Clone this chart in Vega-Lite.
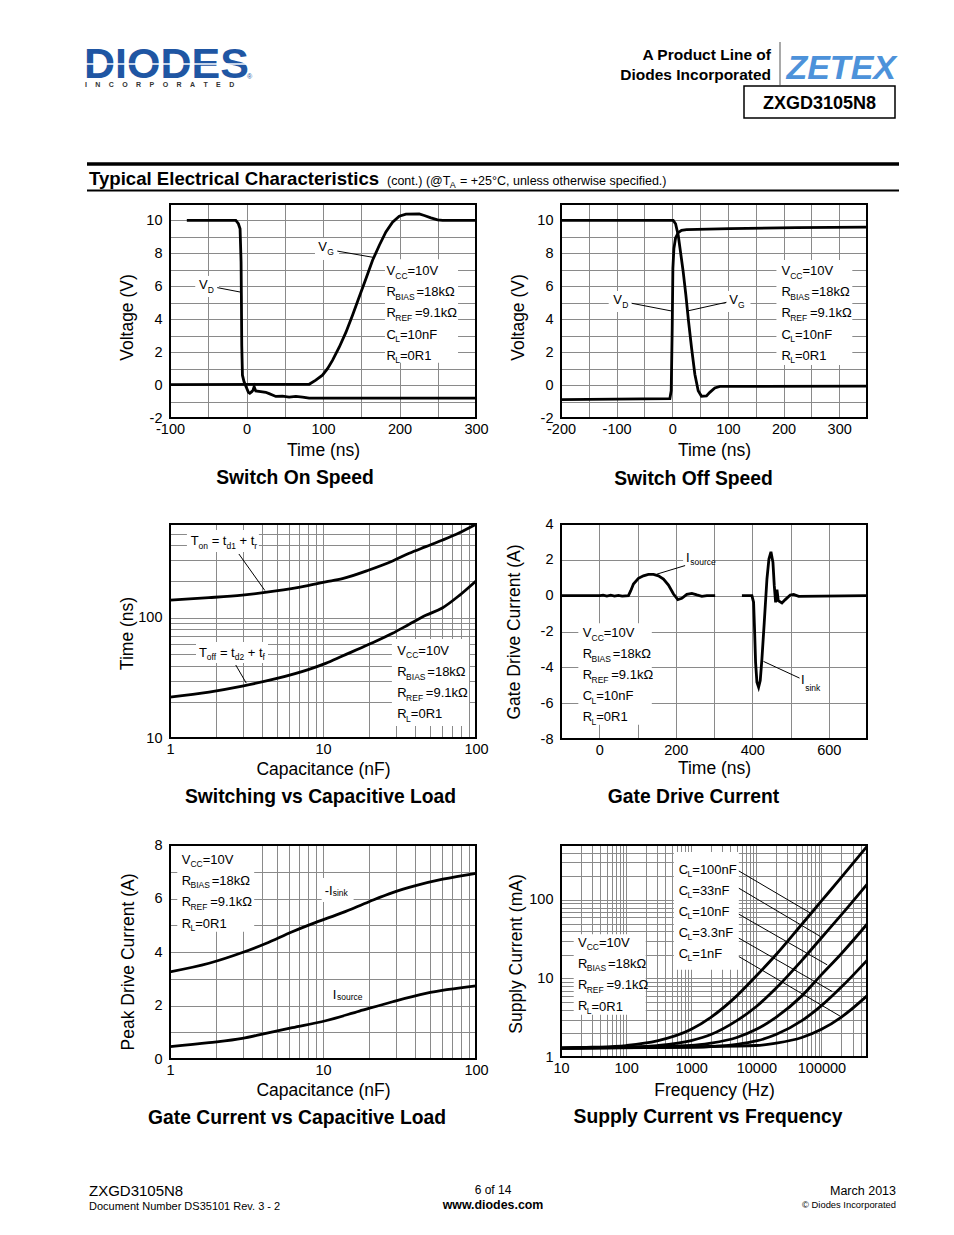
{
"$schema":"https://vega.github.io/schema/vega-lite/v6.json",
"background":"white",
"padding":{"left":84,"top":40,"right":5,"bottom":5},
"columns":2,
"bounds":"flush",
"spacing":{"row":106,"column":85},
"config":{
 "font":"Liberation Sans",
 "view":{"stroke":null},
 "axis":{"grid":true,"gridColor":"#8a8a8a","gridWidth":1,"ticks":false,"domain":false,"labelFontSize":14.5,"labelColor":"black","labelOverlap":false,"labelFlush":false,"titleFontSize":17.5,"titleFontWeight":"normal","titleColor":"black"},
 "axisX":{"labelPadding":4},
 "axisY":{"labelPadding":8},
 "title":{"orient":"bottom","anchor":"middle","frame":"group","baseline":"top","fontSize":19.3,"fontWeight":"bold","color":"black"},
 "text":{"align":"left","baseline":"top","fontSize":13,"lineHeight":21.2,"color":"black"},
 "rule":{"color":"black","strokeWidth":1},
 "line":{"color":"black","strokeWidth":2.8}
},
"concat":[
{"width":306,"height":58,"data":{"values":[{}]},
 "layer":[
  {"mark":{"type":"text","baseline":"alphabetic","fontSize":43,"fontWeight":"bold","color":"#1f56a3"},"encoding":{"x":{"datum":85,"type":"quantitative","scale":{"domain":[171,477],"nice":false,"zero":false},"axis":null},"y":{"datum":78,"type":"quantitative","scale":{"domain":[40,98],"reverse":true,"nice":false,"zero":false},"axis":null},"text":{"value":"DIODES"}}},
  {"mark":{"type":"rule","color":"white","strokeWidth":1.5},"encoding":{"x":{"datum":86,"axis":null},"x2":{"datum":249},"y":{"datum":64,"axis":null}}},
  {"mark":{"type":"text","baseline":"alphabetic","fontSize":7,"fontWeight":"bold","color":"#333333"},"encoding":{"x":{"datum":86,"axis":null},"y":{"datum":87,"axis":null},"text":{"value":"I\u2003\u2009N\u2003\u2009C\u2003\u2009O\u2003\u2009R\u2003\u2009P\u2003\u2009O\u2003\u2009R\u2003\u2009A\u2003\u2009T\u2003\u2009E\u2003\u2009D"}}},
  {"mark":{"type":"text","baseline":"alphabetic","fontSize":7,"color":"#1f56a3"},"encoding":{"x":{"datum":248,"axis":null},"y":{"datum":79,"axis":null},"text":{"value":"®"}}},
  {"mark":{"type":"rule","strokeWidth":3.5},"encoding":{"x":{"datum":88,"axis":null},"x2":{"datum":900},"y":{"datum":164,"axis":null}}},
  {"mark":{"type":"rule","strokeWidth":2},"encoding":{"x":{"datum":88,"axis":null},"x2":{"datum":900},"y":{"datum":190.5,"axis":null}}},
  {"mark":{"type":"text","baseline":"alphabetic","fontSize":18.6,"fontWeight":"bold"},"encoding":{"x":{"datum":90,"axis":null},"y":{"datum":184.5,"axis":null},"text":{"value":"Typical Electrical Characteristics"}}},
  {"mark":{"type":"text","baseline":"alphabetic","fontSize":12.5},"encoding":{"x":{"datum":388,"axis":null},"y":{"datum":184.5,"axis":null},"text":{"value":"(cont.) (@T"}}},
  {"mark":{"type":"text","baseline":"alphabetic","fontSize":9},"encoding":{"x":{"datum":450.8,"axis":null},"y":{"datum":187.5,"axis":null},"text":{"value":"A"}}},
  {"mark":{"type":"text","baseline":"alphabetic","fontSize":12.5},"encoding":{"x":{"datum":461,"axis":null},"y":{"datum":184.5,"axis":null},"text":{"value":"= +25°C, unless otherwise specified.)"}}}
 ]},
{"width":306,"height":58,"data":{"values":[{}]},
 "layer":[
  {"mark":{"type":"text","align":"right","baseline":"alphabetic","fontSize":15.5,"fontWeight":"bold"},"encoding":{"x":{"datum":772,"type":"quantitative","scale":{"domain":[562,868],"nice":false,"zero":false},"axis":null},"y":{"datum":60,"type":"quantitative","scale":{"domain":[40,98],"reverse":true,"nice":false,"zero":false},"axis":null},"text":{"value":"A Product Line of"}}},
  {"mark":{"type":"text","align":"right","baseline":"alphabetic","fontSize":15.5,"fontWeight":"bold"},"encoding":{"x":{"datum":772,"axis":null},"y":{"datum":80,"axis":null},"text":{"value":"Diodes Incorporated"}}},
  {"mark":{"type":"rule","color":"#555555","strokeWidth":1},"encoding":{"x":{"datum":781,"axis":null},"y":{"datum":42,"axis":null},"y2":{"datum":85}}},
  {"mark":{"type":"text","align":"right","baseline":"alphabetic","fontSize":34,"fontWeight":"bold","fontStyle":"italic","color":"#4d92da"},"encoding":{"x":{"datum":897,"axis":null},"y":{"datum":79,"axis":null},"text":{"value":"ZETEX"}}},
  {"mark":{"type":"rect","fill":"white","stroke":"black","strokeWidth":1.5},"encoding":{"x":{"datum":745,"axis":null},"x2":{"datum":896},"y":{"datum":86,"axis":null},"y2":{"datum":118}}},
  {"mark":{"type":"text","align":"center","baseline":"alphabetic","fontSize":18,"fontWeight":"bold"},"encoding":{"x":{"datum":820.5,"axis":null},"y":{"datum":108.5,"axis":null},"text":{"value":"ZXGD3105N8"}}}
 ]},
{"width":306,"height":214,"data":{"values":[{}]},
 "title":{"text":"Switch On Speed","offset":10,"dx":-28},
 "layer":[
  {"mark":{"type":"rect","fill":"white"},"encoding":{"x":{"datum":181},"x2":{"datum":276.5},"y":{"datum":7.65},"y2":{"datum":1.35}}},
  {"mark":{"type":"rect","fill":"white"},"encoding":{"x":{"datum":-67},"x2":{"datum":-36},"y":{"datum":6.63},"y2":{"datum":5.35}}},
  {"mark":{"type":"rect","fill":"white"},"encoding":{"x":{"datum":89.5},"x2":{"datum":121},"y":{"datum":8.93},"y2":{"datum":7.6}}},
  {"data":{"values":[
   {"s":"d","t":-78,"v":10},{"s":"d","t":-14,"v":10},{"s":"d","t":-10.6,"v":9.8},{"s":"d","t":-8.4,"v":9.5},{"s":"d","t":-7.1,"v":7.5},{"s":"d","t":-6.7,"v":5.45},{"s":"d","t":-6.2,"v":2.4},{"s":"d","t":-5.3,"v":0.6},{"s":"d","t":-3.2,"v":0.2},{"s":"d","t":0,"v":-0.16},{"s":"d","t":2.5,"v":-0.44},{"s":"d","t":4.3,"v":-0.5},{"s":"d","t":6.9,"v":-0.4},{"s":"d","t":8.6,"v":-0.3},{"s":"d","t":10,"v":-0.1},{"s":"d","t":12.1,"v":-0.36},{"s":"d","t":18.6,"v":-0.4},{"s":"d","t":25.2,"v":-0.44},{"s":"d","t":29.6,"v":-0.52},{"s":"d","t":33.9,"v":-0.6},{"s":"d","t":38.3,"v":-0.69},{"s":"d","t":47,"v":-0.67},{"s":"d","t":55.7,"v":-0.73},{"s":"d","t":64.5,"v":-0.69},{"s":"d","t":73.2,"v":-0.73},{"s":"d","t":81.9,"v":-0.79},{"s":"d","t":300,"v":-0.79},
   {"s":"g","t":-100,"v":0.03},{"s":"g","t":81.9,"v":0.05},{"s":"g","t":90.6,"v":0.3},{"s":"g","t":99.3,"v":0.6},{"s":"g","t":105.9,"v":1.0},{"s":"g","t":112.4,"v":1.5},{"s":"g","t":121.2,"v":2.3},{"s":"g","t":129.9,"v":3.2},{"s":"g","t":138.6,"v":4.24},{"s":"g","t":147.3,"v":5.35},{"s":"g","t":156.1,"v":6.46},{"s":"g","t":164.8,"v":7.58},{"s":"g","t":173.5,"v":8.48},{"s":"g","t":182.2,"v":9.3},{"s":"g","t":190.9,"v":9.9},{"s":"g","t":199.7,"v":10.26},{"s":"g","t":208.4,"v":10.38},{"s":"g","t":225.8,"v":10.4},{"s":"g","t":232.4,"v":10.3},{"s":"g","t":241.1,"v":10.16},{"s":"g","t":249.8,"v":10.04},{"s":"g","t":256.4,"v":10.0},{"s":"g","t":300,"v":10.0}
  ]},
   "mark":{"type":"line"},
   "encoding":{
    "x":{"field":"t","type":"quantitative","scale":{"domain":[-100,300],"nice":false,"zero":false},"axis":{"title":"Time (ns)","values":[-100,-50,0,50,100,150,200,250,300],"tickCount":100,"labelOverlap":false,"labelExpr":"datum.value % 100 === 0 ? '' + datum.value : ''","titleY":37.3,"titleBaseline":"alphabetic"}},
    "y":{"field":"v","type":"quantitative","scale":{"domain":[-2,11],"nice":false,"zero":false},"axis":{"title":"Voltage (V)","values":[-2,-1,0,1,2,3,4,5,6,7,8,9,10,11],"tickCount":100,"labelOverlap":false,"labelExpr":"datum.value % 2 === 0 && datum.value <= 10 ? '' + datum.value : ''","titleX":-43,"titleY":113,"titleBaseline":"middle"}},
    "detail":{"field":"s"}}},
  {"mark":"rule","encoding":{"x":{"datum":-38.2},"x2":{"datum":-7},"y":{"datum":5.92},"y2":{"datum":5.64}}},
  {"mark":"rule","encoding":{"x":{"datum":118.7},"x2":{"datum":166.7},"y":{"datum":8.14},"y2":{"datum":7.75}}},
  {"mark":"text","encoding":{"x":{"datum":-62.1},"y":{"datum":6.44},"text":{"value":"V"}}},
  {"mark":{"type":"text","fontSize":8.5,"dx":8.8,"dy":6.5},"encoding":{"x":{"datum":-62.1},"y":{"datum":6.44},"text":{"value":"D"}}},
  {"mark":"text","encoding":{"x":{"datum":93.9},"y":{"datum":8.75},"text":{"value":"V"}}},
  {"mark":{"type":"text","fontSize":8.5,"dx":8.8,"dy":6.5},"encoding":{"x":{"datum":93.9},"y":{"datum":8.75},"text":{"value":"G"}}},
  {"mark":"text","encoding":{"x":{"datum":183},"y":{"datum":7.29},"text":{"value":["V","R","R","C","R"]}}},
  {"mark":{"type":"text","fontSize":8.5,"dx":8.8,"dy":6.5},"encoding":{"x":{"datum":183},"y":{"datum":7.29},"text":{"value":["CC","BIAS","REF","L","L"]}}},
  {"mark":{"type":"text","dx":21},"encoding":{"x":{"datum":183},"y":{"datum":7.29},"text":{"value":"=10V"}}},
  {"mark":{"type":"text","dx":30,"dy":21.2},"encoding":{"x":{"datum":183},"y":{"datum":7.29},"text":{"value":"=18kΩ"}}},
  {"mark":{"type":"text","dx":28.5,"dy":42.4},"encoding":{"x":{"datum":183},"y":{"datum":7.29},"text":{"value":"=9.1kΩ"}}},
  {"mark":{"type":"text","dx":13.5,"dy":63.6},"encoding":{"x":{"datum":183},"y":{"datum":7.29},"text":{"value":["=10nF","=0R1"]}}},
  {"mark":{"type":"rect","filled":false,"stroke":"black","strokeWidth":2},"encoding":{"x":{"datum":-100},"x2":{"datum":300},"y":{"datum":-2},"y2":{"datum":11}}}
 ]},
{"width":306,"height":214,"data":{"values":[{}]},
 "title":{"text":"Switch Off Speed","offset":11,"dx":-20.5},
 "layer":[
  {"mark":{"type":"rect","fill":"white"},"encoding":{"x":{"datum":187.2},"x2":{"datum":323.6},"y":{"datum":7.6},"y2":{"datum":1.22}}},
  {"mark":{"type":"rect","fill":"white"},"encoding":{"x":{"datum":-114.3},"x2":{"datum":-71.2},"y":{"datum":5.72},"y2":{"datum":4.44}}},
  {"mark":{"type":"rect","fill":"white"},"encoding":{"x":{"datum":95.7},"x2":{"datum":140.6},"y":{"datum":5.72},"y2":{"datum":4.44}}},
  {"data":{"values":[
   {"s":"d","t":-200,"v":-0.88},{"s":"d","t":-4.3,"v":-0.82},{"s":"d","t":-1.9,"v":-0.34},{"s":"d","t":-0.1,"v":3.47},{"s":"d","t":1.1,"v":7.09},{"s":"d","t":2.9,"v":8.29},{"s":"d","t":5.9,"v":8.94},{"s":"d","t":10.7,"v":9.26},{"s":"d","t":16.6,"v":9.4},{"s":"d","t":25.6,"v":9.44},{"s":"d","t":103.4,"v":9.5},{"s":"d","t":223,"v":9.56},{"s":"d","t":350,"v":9.6},
   {"s":"g","t":-200,"v":10},{"s":"g","t":1.7,"v":10},{"s":"g","t":5.9,"v":9.8},{"s":"g","t":10.7,"v":9.1},{"s":"g","t":14.8,"v":8.09},{"s":"g","t":19.6,"v":6.89},{"s":"g","t":24.4,"v":5.48},{"s":"g","t":29.2,"v":3.88},{"s":"g","t":34.6,"v":2.27},{"s":"g","t":40.6,"v":0.66},{"s":"g","t":46.6,"v":-0.34},{"s":"g","t":52.5,"v":-0.68},{"s":"g","t":61.5,"v":-0.66},{"s":"g","t":67.5,"v":-0.44},{"s":"g","t":76.5,"v":-0.18},{"s":"g","t":85.5,"v":-0.08},{"s":"g","t":350,"v":-0.06}
  ]},
   "mark":{"type":"line"},
   "encoding":{
    "x":{"field":"t","type":"quantitative","scale":{"domain":[-200,350],"nice":false,"zero":false},"axis":{"title":"Time (ns)","values":[-200,-150,-100,-50,0,50,100,150,200,250,300,350],"tickCount":100,"labelOverlap":false,"labelExpr":"datum.value % 100 === 0 ? '' + datum.value : ''","titleY":37.3,"titleBaseline":"alphabetic"}},
    "y":{"field":"v","type":"quantitative","scale":{"domain":[-2,11],"nice":false,"zero":false},"axis":{"title":"Voltage (V)","values":[-2,-1,0,1,2,3,4,5,6,7,8,9,10,11],"tickCount":100,"labelOverlap":false,"labelExpr":"datum.value % 2 === 0 && datum.value <= 10 ? '' + datum.value : ''","titleX":-42.6,"titleY":113,"titleBaseline":"middle"}},
    "detail":{"field":"s"}}},
  {"mark":"rule","encoding":{"x":{"datum":-73.1},"x2":{"datum":-1.3},"y":{"datum":4.97},"y2":{"datum":4.5}}},
  {"mark":"rule","encoding":{"x":{"datum":27},"x2":{"datum":97.4},"y":{"datum":4.5},"y2":{"datum":5.03}}},
  {"mark":"text","encoding":{"x":{"datum":-105.9},"y":{"datum":5.51},"text":{"value":"V"}}},
  {"mark":{"type":"text","fontSize":8.5,"dx":8.8,"dy":6.5},"encoding":{"x":{"datum":-105.9},"y":{"datum":5.51},"text":{"value":"D"}}},
  {"mark":"text","encoding":{"x":{"datum":102.3},"y":{"datum":5.51},"text":{"value":"V"}}},
  {"mark":{"type":"text","fontSize":8.5,"dx":8.8,"dy":6.5},"encoding":{"x":{"datum":102.3},"y":{"datum":5.51},"text":{"value":"G"}}},
  {"mark":"text","encoding":{"x":{"datum":196.2},"y":{"datum":7.29},"text":{"value":["V","R","R","C","R"]}}},
  {"mark":{"type":"text","fontSize":8.5,"dx":8.8,"dy":6.5},"encoding":{"x":{"datum":196.2},"y":{"datum":7.29},"text":{"value":["CC","BIAS","REF","L","L"]}}},
  {"mark":{"type":"text","dx":21},"encoding":{"x":{"datum":196.2},"y":{"datum":7.29},"text":{"value":"=10V"}}},
  {"mark":{"type":"text","dx":30,"dy":21.2},"encoding":{"x":{"datum":196.2},"y":{"datum":7.29},"text":{"value":"=18kΩ"}}},
  {"mark":{"type":"text","dx":28.5,"dy":42.4},"encoding":{"x":{"datum":196.2},"y":{"datum":7.29},"text":{"value":"=9.1kΩ"}}},
  {"mark":{"type":"text","dx":13.5,"dy":63.6},"encoding":{"x":{"datum":196.2},"y":{"datum":7.29},"text":{"value":["=10nF","=0R1"]}}},
  {"mark":{"type":"rect","filled":false,"stroke":"black","strokeWidth":2},"encoding":{"x":{"datum":-200},"x2":{"datum":350},"y":{"datum":-2},"y2":{"datum":11}}}
 ]},
{"width":306,"height":214,"data":{"values":[{}]},
 "title":{"text":"Switching vs Capacitive Load","offset":10,"dx":-2.5},
 "layer":[
  {"mark":{"type":"rect","fill":"white"},"encoding":{"x":{"datum":28.2},"x2":{"datum":90},"y":{"datum":66.5},"y2":{"datum":12.58}}},
  {"mark":{"type":"rect","fill":"white"},"encoding":{"x":{"datum":1.29},"x2":{"datum":3.81},"y":{"datum":535},"y2":{"datum":351}}},
  {"mark":{"type":"rect","fill":"white"},"encoding":{"x":{"datum":1.479},"x2":{"datum":4.37},"y":{"datum":62.8},"y2":{"datum":42}}},
  {"data":{"values":[
   {"s":"on","c":1,"t":140},{"s":"on","c":1.8,"t":146.6},{"s":"on","c":2.97,"t":154},{"s":"on","c":4.92,"t":166.6},{"s":"on","c":8.1,"t":185.7},{"s":"on","c":10.4,"t":197.9},{"s":"on","c":13.4,"t":210.9},{"s":"on","c":20,"t":248.9},{"s":"on","c":28.5,"t":295.8},{"s":"on","c":36.6,"t":342.7},{"s":"on","c":47,"t":389},{"s":"on","c":60.6,"t":442},{"s":"on","c":78,"t":508},{"s":"on","c":100,"t":597},
   {"s":"off","c":1,"t":21.9},{"s":"off","c":1.8,"t":24.1},{"s":"off","c":2.97,"t":27},{"s":"off","c":4.92,"t":31.1},{"s":"off","c":8.1,"t":37.2},{"s":"off","c":10.4,"t":41.7},{"s":"off","c":13.4,"t":48},{"s":"off","c":20,"t":60},{"s":"off","c":28.5,"t":74.1},{"s":"off","c":36.6,"t":88.1},{"s":"off","c":47,"t":104.5},{"s":"off","c":60.6,"t":121},{"s":"off","c":78,"t":153.4},{"s":"off","c":100,"t":201.8}
  ]},
   "mark":{"type":"line","interpolate":"monotone"},
   "encoding":{
    "x":{"field":"c","type":"quantitative","scale":{"type":"log","domain":[1,100],"nice":false},"axis":{"title":"Capacitance (nF)","values":[1,2,3,4,5,6,7,8,9,10,20,30,40,50,60,70,80,90,100],"tickCount":100,"labelOverlap":false,"labelExpr":"indexof([1,10,100], datum.value) >= 0 ? '' + datum.value : ''","titleY":36.3,"titleBaseline":"alphabetic"}},
    "y":{"field":"t","type":"quantitative","scale":{"type":"log","domain":[10,600],"nice":false},"axis":{"title":"Time (ns)","values":[10,20,30,40,50,60,70,80,90,100,200,300,400,500,600],"tickCount":100,"labelOverlap":false,"labelExpr":"indexof([10,100], datum.value) >= 0 ? '' + datum.value : ''","titleX":-43,"titleY":109,"titleBaseline":"middle"}},
    "detail":{"field":"s"}}},
  {"mark":"rule","encoding":{"x":{"datum":2.82},"x2":{"datum":4.17},"y":{"datum":338},"y2":{"datum":168}}},
  {"mark":"rule","encoding":{"x":{"datum":2.69},"x2":{"datum":3.15},"y":{"datum":40.4},"y2":{"datum":28.6}}},
  {"mark":"text","encoding":{"x":{"datum":1.365},"y":{"datum":485.6},"text":{"value":"T"}}},
  {"mark":{"type":"text","fontSize":8.5,"dx":7.9,"dy":6.5},"encoding":{"x":{"datum":1.365},"y":{"datum":485.6},"text":{"value":"on"}}},
  {"mark":{"type":"text","dx":20.95},"encoding":{"x":{"datum":1.365},"y":{"datum":485.6},"text":{"value":"= t"}}},
  {"mark":{"type":"text","fontSize":8.5,"dx":35.75,"dy":6.5},"encoding":{"x":{"datum":1.365},"y":{"datum":485.6},"text":{"value":"d1"}}},
  {"mark":{"type":"text","dx":48.8},"encoding":{"x":{"datum":1.365},"y":{"datum":485.6},"text":{"value":"+ t"}}},
  {"mark":{"type":"text","fontSize":8.5,"dx":63.6,"dy":6.5},"encoding":{"x":{"datum":1.365},"y":{"datum":485.6},"text":{"value":"r"}}},
  {"mark":"text","encoding":{"x":{"datum":1.546},"y":{"datum":57.4},"text":{"value":"T"}}},
  {"mark":{"type":"text","fontSize":8.5,"dx":7.9,"dy":6.5},"encoding":{"x":{"datum":1.546},"y":{"datum":57.4},"text":{"value":"off"}}},
  {"mark":{"type":"text","dx":20.95},"encoding":{"x":{"datum":1.546},"y":{"datum":57.4},"text":{"value":"= t"}}},
  {"mark":{"type":"text","fontSize":8.5,"dx":35.75,"dy":6.5},"encoding":{"x":{"datum":1.546},"y":{"datum":57.4},"text":{"value":"d2"}}},
  {"mark":{"type":"text","dx":48.8},"encoding":{"x":{"datum":1.546},"y":{"datum":57.4},"text":{"value":"+ t"}}},
  {"mark":{"type":"text","fontSize":8.5,"dx":63.6,"dy":6.5},"encoding":{"x":{"datum":1.546},"y":{"datum":57.4},"text":{"value":"f"}}},
  {"mark":"text","encoding":{"x":{"datum":30.6},"y":{"datum":59.4},"text":{"value":["V","R","R","R"]}}},
  {"mark":{"type":"text","fontSize":8.5,"dx":8.8,"dy":6.5},"encoding":{"x":{"datum":30.6},"y":{"datum":59.4},"text":{"value":["CC","BIAS","REF","L"]}}},
  {"mark":{"type":"text","dx":21},"encoding":{"x":{"datum":30.6},"y":{"datum":59.4},"text":{"value":"=10V"}}},
  {"mark":{"type":"text","dx":30,"dy":21.2},"encoding":{"x":{"datum":30.6},"y":{"datum":59.4},"text":{"value":"=18kΩ"}}},
  {"mark":{"type":"text","dx":28.5,"dy":42.4},"encoding":{"x":{"datum":30.6},"y":{"datum":59.4},"text":{"value":"=9.1kΩ"}}},
  {"mark":{"type":"text","dx":13.5,"dy":63.6},"encoding":{"x":{"datum":30.6},"y":{"datum":59.4},"text":{"value":"=0R1"}}},
  {"mark":{"type":"rect","filled":false,"stroke":"black","strokeWidth":2},"encoding":{"x":{"datum":1},"x2":{"datum":100},"y":{"datum":10},"y2":{"datum":600}}}
 ]},
{"width":306,"height":215,"data":{"values":[{}]},
 "title":{"text":"Gate Drive Current","offset":10.9,"dx":-20.5},
 "layer":[
  {"mark":{"type":"rect","fill":"white"},"encoding":{"x":{"datum":-54.7},"x2":{"datum":137.4},"y":{"datum":-1.54},"y2":{"datum":-7.2}}},
  {"mark":{"type":"rect","fill":"white"},"encoding":{"x":{"datum":219.3},"x2":{"datum":297.8},"y":{"datum":2.57},"y2":{"datum":1.51}}},
  {"mark":{"type":"rect","fill":"white"},"encoding":{"x":{"datum":520.3},"x2":{"datum":580.5},"y":{"datum":-4.12},"y2":{"datum":-5.61}}},
  {"data":{"values":[
   {"s":"a","t":-100,"i":0},{"s":"a","t":2,"i":0},{"s":"a","t":10,"i":0.03},{"s":"a","t":20,"i":-0.02},{"s":"a","t":30,"i":0.03},{"s":"a","t":40,"i":-0.02},{"s":"a","t":50,"i":0.02},{"s":"a","t":60,"i":-0.02},{"s":"a","t":76.3,"i":0},{"s":"a","t":82.4,"i":0.28},{"s":"a","t":89.4,"i":0.65},{"s":"a","t":102.4,"i":0.97},{"s":"a","t":115.5,"i":1.11},{"s":"a","t":128.6,"i":1.19},{"s":"a","t":141.7,"i":1.19},{"s":"a","t":154.8,"i":1.11},{"s":"a","t":167.9,"i":0.93},{"s":"a","t":181,"i":0.59},{"s":"a","t":194.1,"i":0.09},{"s":"a","t":205.4,"i":-0.22},{"s":"a","t":215.9,"i":-0.15},{"s":"a","t":229,"i":0.07},{"s":"a","t":242.1,"i":0.13},{"s":"a","t":255.2,"i":0.04},{"s":"a","t":268.2,"i":-0.04},{"s":"a","t":281.3,"i":0},{"s":"a","t":303,"i":0},
   {"s":"b","t":373,"i":0},{"s":"b","t":399.1,"i":0},{"s":"b","t":403.5,"i":-0.37},{"s":"b","t":406,"i":-1.86},{"s":"b","t":408.7,"i":-3.72},{"s":"b","t":412.2,"i":-4.83},{"s":"b","t":416.6,"i":-5.11},{"s":"b","t":420.9,"i":-4.74},{"s":"b","t":425.3,"i":-3.53},{"s":"b","t":431.4,"i":-1.49},{"s":"b","t":438.4,"i":0.93},{"s":"b","t":443.6,"i":2.04},{"s":"b","t":448.9,"i":2.45},{"s":"b","t":454.1,"i":1.86},{"s":"b","t":457.6,"i":0.56},{"s":"b","t":461.1,"i":-0.37},{"s":"b","t":464.6,"i":0.33},{"s":"b","t":468.1,"i":-0.28},{"s":"b","t":477.7,"i":-0.41},{"s":"b","t":486.4,"i":-0.22},{"s":"b","t":499.5,"i":0.04},{"s":"b","t":508.2,"i":0.07},{"s":"b","t":521.3,"i":-0.04},{"s":"b","t":700,"i":0}
  ]},
   "mark":{"type":"line"},
   "encoding":{
    "x":{"field":"t","type":"quantitative","scale":{"domain":[-100,700],"nice":false,"zero":false},"axis":{"title":"Time (ns)","values":[-100,0,100,200,300,400,500,600,700],"tickCount":100,"labelOverlap":false,"labelExpr":"datum.value % 200 === 0 ? '' + datum.value : ''","titleY":34.6,"titleBaseline":"alphabetic"}},
    "y":{"field":"i","type":"quantitative","scale":{"domain":[-8,4],"nice":false,"zero":false},"axis":{"title":"Gate Drive Current (A)","values":[-8,-6,-4,-2,0,2,4],"tickCount":100,"labelOverlap":false,"labelExpr":"'' + datum.value","titleX":-47,"titleY":107.5,"titleBaseline":"middle"}},
    "detail":{"field":"s"}}},
  {"mark":"rule","encoding":{"x":{"datum":224.5},"x2":{"datum":150.5},"y":{"datum":1.68},"y2":{"datum":1.2}}},
  {"mark":"rule","encoding":{"x":{"datum":429.4},"x2":{"datum":523.6},"y":{"datum":-3.67},"y2":{"datum":-4.6}}},
  {"mark":"text","encoding":{"x":{"datum":227.1},"y":{"datum":2.43},"text":{"value":"I"}}},
  {"mark":{"type":"text","fontSize":8.5,"dx":4.2,"dy":6},"encoding":{"x":{"datum":227.1},"y":{"datum":2.43},"text":{"value":"source"}}},
  {"mark":"text","encoding":{"x":{"datum":527.3},"y":{"datum":-4.38},"text":{"value":"I"}}},
  {"mark":{"type":"text","fontSize":8.5,"dx":4.2,"dy":10},"encoding":{"x":{"datum":527.3},"y":{"datum":-4.38},"text":{"value":"sink"}}},
  {"mark":{"type":"text","lineHeight":21},"encoding":{"x":{"datum":-43.2},"y":{"datum":-1.76},"text":{"value":["V","R","R","C","R"]}}},
  {"mark":{"type":"text","fontSize":8.5,"lineHeight":21,"dx":8.8,"dy":6.5},"encoding":{"x":{"datum":-43.2},"y":{"datum":-1.76},"text":{"value":["CC","BIAS","REF","L","L"]}}},
  {"mark":{"type":"text","dx":21},"encoding":{"x":{"datum":-43.2},"y":{"datum":-1.76},"text":{"value":"=10V"}}},
  {"mark":{"type":"text","dx":30,"dy":21},"encoding":{"x":{"datum":-43.2},"y":{"datum":-1.76},"text":{"value":"=18kΩ"}}},
  {"mark":{"type":"text","dx":28.5,"dy":42},"encoding":{"x":{"datum":-43.2},"y":{"datum":-1.76},"text":{"value":"=9.1kΩ"}}},
  {"mark":{"type":"text","lineHeight":21,"dx":13.5,"dy":63},"encoding":{"x":{"datum":-43.2},"y":{"datum":-1.76},"text":{"value":["=10nF","=0R1"]}}},
  {"mark":{"type":"rect","filled":false,"stroke":"black","strokeWidth":2},"encoding":{"x":{"datum":-100},"x2":{"datum":700},"y":{"datum":-8},"y2":{"datum":4}}}
 ]},
{"width":306,"height":214,"data":{"values":[{}]},
 "title":{"text":"Gate Current vs Capacitive Load","offset":9.9,"dx":-26},
 "layer":[
  {"mark":{"type":"rect","fill":"white"},"encoding":{"x":{"datum":1.116},"x2":{"datum":3.55},"y":{"datum":8},"y2":{"datum":4.76}}},
  {"mark":{"type":"rect","fill":"white"},"encoding":{"x":{"datum":9.8},"x2":{"datum":15.85},"y":{"datum":6.77},"y2":{"datum":5.87}}},
  {"mark":{"type":"rect","fill":"white"},"encoding":{"x":{"datum":11.1},"x2":{"datum":17.6},"y":{"datum":2.88},"y2":{"datum":1.98}}},
  {"data":{"values":[
   {"s":"k","c":1,"i":3.26},{"s":"k","c":1.8,"i":3.58},{"s":"k","c":2.97,"i":3.98},{"s":"k","c":4.23,"i":4.32},{"s":"k","c":6.3,"i":4.76},{"s":"k","c":8.9,"i":5.1},{"s":"k","c":13.4,"i":5.47},{"s":"k","c":20,"i":5.88},{"s":"k","c":28.5,"i":6.22},{"s":"k","c":40.3,"i":6.48},{"s":"k","c":60.6,"i":6.72},{"s":"k","c":100,"i":6.94},
   {"s":"s","c":1,"i":0.46},{"s":"s","c":1.8,"i":0.61},{"s":"s","c":2.97,"i":0.77},{"s":"s","c":4.23,"i":0.96},{"s":"s","c":6.3,"i":1.17},{"s":"s","c":10.4,"i":1.43},{"s":"s","c":17.3,"i":1.79},{"s":"s","c":28.5,"i":2.14},{"s":"s","c":47,"i":2.45},{"s":"s","c":100,"i":2.73}
  ]},
   "mark":{"type":"line","interpolate":"monotone"},
   "encoding":{
    "x":{"field":"c","type":"quantitative","scale":{"type":"log","domain":[1,100],"nice":false},"axis":{"title":"Capacitance (nF)","values":[1,2,3,4,5,6,7,8,9,10,20,30,40,50,60,70,80,90,100],"tickCount":100,"labelOverlap":false,"labelExpr":"indexof([1,10,100], datum.value) >= 0 ? '' + datum.value : ''","titleY":36.3,"titleBaseline":"alphabetic"}},
    "y":{"field":"i","type":"quantitative","scale":{"domain":[0,8],"nice":false,"zero":false},"axis":{"title":"Peak Drive Current (A)","values":[0,1,2,3,4,5,6,7,8],"tickCount":100,"labelOverlap":false,"labelExpr":"datum.value % 2 === 0 ? '' + datum.value : ''","titleX":-42,"titleY":116.5,"titleBaseline":"middle"}},
    "detail":{"field":"s"}}},
  {"mark":"text","encoding":{"x":{"datum":10.26},"y":{"datum":6.51},"text":{"value":"-I"}}},
  {"mark":{"type":"text","fontSize":8.5,"dx":8,"dy":4.5},"encoding":{"x":{"datum":10.26},"y":{"datum":6.51},"text":{"value":"sink"}}},
  {"mark":"text","encoding":{"x":{"datum":11.6},"y":{"datum":2.63},"text":{"value":"I"}}},
  {"mark":{"type":"text","fontSize":8.5,"dx":4.2,"dy":4.5},"encoding":{"x":{"datum":11.6},"y":{"datum":2.63},"text":{"value":"source"}}},
  {"mark":{"type":"text","lineHeight":21.3},"encoding":{"x":{"datum":1.192},"y":{"datum":7.675},"text":{"value":["V","R","R","R"]}}},
  {"mark":{"type":"text","fontSize":8.5,"lineHeight":21.3,"dx":8.8,"dy":6.5},"encoding":{"x":{"datum":1.192},"y":{"datum":7.675},"text":{"value":["CC","BIAS","REF","L"]}}},
  {"mark":{"type":"text","dx":21},"encoding":{"x":{"datum":1.192},"y":{"datum":7.675},"text":{"value":"=10V"}}},
  {"mark":{"type":"text","dx":30,"dy":21.3},"encoding":{"x":{"datum":1.192},"y":{"datum":7.675},"text":{"value":"=18kΩ"}}},
  {"mark":{"type":"text","dx":28.5,"dy":42.6},"encoding":{"x":{"datum":1.192},"y":{"datum":7.675},"text":{"value":"=9.1kΩ"}}},
  {"mark":{"type":"text","dx":13.5,"dy":63.9},"encoding":{"x":{"datum":1.192},"y":{"datum":7.675},"text":{"value":"=0R1"}}},
  {"mark":{"type":"rect","filled":false,"stroke":"black","strokeWidth":2},"encoding":{"x":{"datum":1},"x2":{"datum":100},"y":{"datum":0},"y2":{"datum":8}}}
 ]},
{"width":306,"height":212,"data":{"values":[{}]},
 "title":{"text":"Supply Current vs Frequency","offset":9.9,"dx":-6},
 "layer":[
  {"mark":{"type":"rect","fill":"white"},"encoding":{"x":{"datum":15.67},"x2":{"datum":200},"y":{"datum":36.6},"y2":{"datum":3.45}}},
  {"mark":{"type":"rect","fill":"white"},"encoding":{"x":{"datum":540},"x2":{"datum":5383},"y":{"datum":407},"y2":{"datum":12.9}}},
  {"data":{"values":[
   {"s":"100","f":10,"i":1.3},{"s":"100","f":30,"i":1.33},{"s":"100","f":100,"i":1.4},{"s":"100","f":300,"i":1.6},{"s":"100","f":1000,"i":2.25},{"s":"100","f":2000,"i":3.2},{"s":"100","f":5000,"i":6.0},{"s":"100","f":10000,"i":10.8},{"s":"100","f":20000,"i":20},{"s":"100","f":50000,"i":49},{"s":"100","f":100000,"i":97},{"s":"100","f":200000,"i":192},{"s":"100","f":500000,"i":480},
   {"s":"33","f":10,"i":1.3},{"s":"33","f":100,"i":1.33},{"s":"33","f":300,"i":1.4},{"s":"33","f":1000,"i":1.62},{"s":"33","f":2000,"i":1.93},{"s":"33","f":5000,"i":2.9},{"s":"33","f":10000,"i":4.4},{"s":"33","f":20000,"i":7.5},{"s":"33","f":50000,"i":17},{"s":"33","f":100000,"i":33},{"s":"33","f":200000,"i":64},{"s":"33","f":500000,"i":158},
   {"s":"10","f":10,"i":1.3},{"s":"10","f":1000,"i":1.4},{"s":"10","f":2000,"i":1.5},{"s":"10","f":5000,"i":1.77},{"s":"10","f":10000,"i":2.25},{"s":"10","f":20000,"i":3.2},{"s":"10","f":50000,"i":6.0},{"s":"10","f":100000,"i":11.2},{"s":"10","f":200000,"i":20.5},{"s":"10","f":500000,"i":49},
   {"s":"3.3","f":10,"i":1.3},{"s":"3.3","f":1000,"i":1.33},{"s":"3.3","f":5000,"i":1.45},{"s":"3.3","f":10000,"i":1.6},{"s":"3.3","f":20000,"i":1.93},{"s":"3.3","f":50000,"i":2.9},{"s":"3.3","f":100000,"i":4.5},{"s":"3.3","f":200000,"i":7.7},{"s":"3.3","f":500000,"i":17},
   {"s":"1","f":10,"i":1.3},{"s":"1","f":10000,"i":1.4},{"s":"1","f":20000,"i":1.5},{"s":"1","f":50000,"i":1.77},{"s":"1","f":100000,"i":2.25},{"s":"1","f":200000,"i":3.2},{"s":"1","f":500000,"i":6.0}
  ]},
   "mark":{"type":"line","interpolate":"monotone"},
   "encoding":{
    "x":{"field":"f","type":"quantitative","scale":{"type":"log","domain":[10,500000],"nice":false},"axis":{"title":"Frequency (Hz)","values":[10,20,30,40,50,60,70,80,90,100,200,300,400,500,600,700,800,900,1000,2000,3000,4000,5000,6000,7000,8000,9000,10000,20000,30000,40000,50000,60000,70000,80000,90000,100000,200000,300000,400000,500000],"tickCount":100,"labelOverlap":false,"labelExpr":"indexof([10,100,1000,10000,100000], datum.value) >= 0 ? '' + datum.value : ''","titleY":38,"titleBaseline":"alphabetic"}},
    "y":{"field":"i","type":"quantitative","scale":{"type":"log","domain":[1,500],"nice":false},"axis":{"title":"Supply Current (mA)","values":[1,2,3,4,5,6,7,8,9,10,20,30,40,50,60,70,80,90,100,200,300,400,500],"tickCount":100,"labelOverlap":false,"labelExpr":"indexof([1,10,100], datum.value) >= 0 ? '' + datum.value : ''","titleX":-44.8,"titleY":108.5,"titleBaseline":"middle"}},
    "detail":{"field":"s"}}},
  {"mark":"rule","encoding":{"x":{"datum":5383},"x2":{"datum":68100},"y":{"datum":233.6},"y2":{"datum":67.7}}},
  {"mark":"rule","encoding":{"x":{"datum":5383},"x2":{"datum":97000},"y":{"datum":140.8},"y2":{"datum":34.1}}},
  {"mark":"rule","encoding":{"x":{"datum":5383},"x2":{"datum":122500},"y":{"datum":65.8},"y2":{"datum":14.9}}},
  {"mark":"rule","encoding":{"x":{"datum":5383},"x2":{"datum":146200},"y":{"datum":32.6},"y2":{"datum":6.82}}},
  {"mark":"rule","encoding":{"x":{"datum":5383},"x2":{"datum":197200},"y":{"datum":19.0},"y2":{"datum":3.28}}},
  {"mark":{"type":"text","lineHeight":21},"encoding":{"x":{"datum":644},"y":{"datum":287.6},"text":{"value":["C","C","C","C","C"]}}},
  {"mark":{"type":"text","fontSize":8.5,"lineHeight":21,"dx":8.8,"dy":6.5},"encoding":{"x":{"datum":644},"y":{"datum":287.6},"text":{"value":["L","L","L","L","L"]}}},
  {"mark":{"type":"text","lineHeight":21,"dx":13.5},"encoding":{"x":{"datum":644},"y":{"datum":287.6},"text":{"value":["=100nF","=33nF","=10nF","=3.3nF","=1nF"]}}},
  {"mark":{"type":"text","lineHeight":21.3},"encoding":{"x":{"datum":18.2},"y":{"datum":34.1},"text":{"value":["V","R","R","R"]}}},
  {"mark":{"type":"text","fontSize":8.5,"lineHeight":21.3,"dx":8.8,"dy":6.5},"encoding":{"x":{"datum":18.2},"y":{"datum":34.1},"text":{"value":["CC","BIAS","REF","L"]}}},
  {"mark":{"type":"text","dx":21},"encoding":{"x":{"datum":18.2},"y":{"datum":34.1},"text":{"value":"=10V"}}},
  {"mark":{"type":"text","dx":30,"dy":21.3},"encoding":{"x":{"datum":18.2},"y":{"datum":34.1},"text":{"value":"=18kΩ"}}},
  {"mark":{"type":"text","dx":28.5,"dy":42.6},"encoding":{"x":{"datum":18.2},"y":{"datum":34.1},"text":{"value":"=9.1kΩ"}}},
  {"mark":{"type":"text","dx":13.5,"dy":63.9},"encoding":{"x":{"datum":18.2},"y":{"datum":34.1},"text":{"value":"=0R1"}}},
  {"mark":{"type":"rect","filled":false,"stroke":"black","strokeWidth":2},"encoding":{"x":{"datum":10},"x2":{"datum":500000},"y":{"datum":1},"y2":{"datum":500}}}
 ]},
{"width":306,"height":50,"data":{"values":[{}]},
 "layer":[
  {"mark":{"type":"text","baseline":"alphabetic","fontSize":15},"encoding":{"x":{"datum":90,"type":"quantitative","scale":{"domain":[171,477],"nice":false,"zero":false},"axis":null},"y":{"datum":1196,"type":"quantitative","scale":{"domain":[1165,1215],"reverse":true,"nice":false,"zero":false},"axis":null},"text":{"value":"ZXGD3105N8"}}},
  {"mark":{"type":"text","baseline":"alphabetic","fontSize":11},"encoding":{"x":{"datum":90,"axis":null},"y":{"datum":1210,"axis":null},"text":{"value":"Document Number DS35101 Rev. 3 - 2"}}},
  {"mark":{"type":"text","align":"center","baseline":"alphabetic","fontSize":12},"encoding":{"x":{"datum":494,"axis":null},"y":{"datum":1193.5,"axis":null},"text":{"value":"6 of 14"}}},
  {"mark":{"type":"text","align":"center","baseline":"alphabetic","fontSize":12.4,"fontWeight":"bold"},"encoding":{"x":{"datum":494,"axis":null},"y":{"datum":1208.5,"axis":null},"text":{"value":"www.diodes.com"}}}
 ]},
{"width":306,"height":50,"data":{"values":[{}]},
 "layer":[
  {"mark":{"type":"text","align":"right","baseline":"alphabetic","fontSize":12.5},"encoding":{"x":{"datum":897,"type":"quantitative","scale":{"domain":[562,868],"nice":false,"zero":false},"axis":null},"y":{"datum":1195,"type":"quantitative","scale":{"domain":[1165,1215],"reverse":true,"nice":false,"zero":false},"axis":null},"text":{"value":"March 2013"}}},
  {"mark":{"type":"text","align":"right","baseline":"alphabetic","fontSize":9.4},"encoding":{"x":{"datum":897,"axis":null},"y":{"datum":1207.5,"axis":null},"text":{"value":"© Diodes Incorporated"}}}
 ]}
]
}
